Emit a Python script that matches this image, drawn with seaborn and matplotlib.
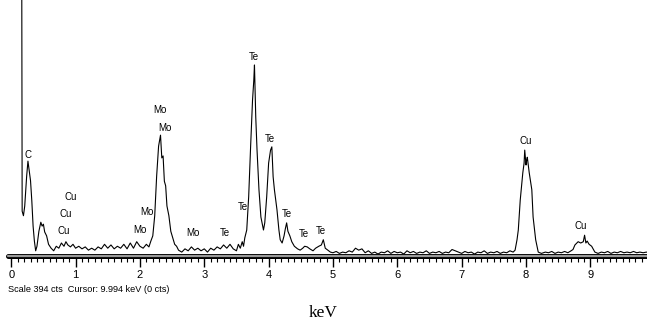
import numpy as np
import pandas as pd
import matplotlib
matplotlib.use("Agg")
import matplotlib.pyplot as plt
import seaborn as sns

# spectrum: energy (keV) and counts (cts)
energy = [0.16, 0.17, 0.19, 0.21, 0.24, 0.26, 0.28, 0.30, 0.32, 0.34, 0.36, 0.38, 0.40, 0.43,
          0.46, 0.48, 0.50, 0.52, 0.55, 0.58, 0.62, 0.66, 0.70, 0.74, 0.78, 0.82, 0.85, 0.88,
          0.92, 0.96, 1.00, 1.05, 1.10, 1.15, 1.20, 1.25, 1.30, 1.35, 1.40, 1.45, 1.50, 1.55,
          1.60, 1.65, 1.70, 1.75, 1.80, 1.85, 1.90, 1.95, 2.00, 2.05, 2.10, 2.14, 2.17, 2.20,
          2.23, 2.26, 2.29, 2.32, 2.34, 2.36, 2.38, 2.40, 2.42, 2.45, 2.48, 2.51, 2.54, 2.57,
          2.60, 2.65, 2.70, 2.75, 2.80, 2.85, 2.90, 2.95, 3.00, 3.05, 3.10, 3.15, 3.20, 3.25,
          3.30, 3.35, 3.40, 3.45, 3.50, 3.53, 3.56, 3.59, 3.61, 3.63, 3.66, 3.69, 3.72, 3.75,
          3.77, 3.78, 3.80, 3.82, 3.85, 3.88, 3.92, 3.94, 3.97, 4.00, 4.03, 4.05, 4.07, 4.09,
          4.13, 4.16, 4.18, 4.21, 4.24, 4.26, 4.28, 4.30, 4.33, 4.36, 4.40, 4.45, 4.49, 4.53,
          4.56, 4.60, 4.64, 4.69, 4.73, 4.78, 4.82, 4.85, 4.88, 4.92, 4.96, 5.00, 5.05, 5.10,
          5.15, 5.20, 5.25, 5.30, 5.35, 5.40, 5.45, 5.50, 5.55, 5.60, 5.65, 5.70, 5.75, 5.80,
          5.85, 5.90, 5.95, 6.00, 6.05, 6.10, 6.15, 6.20, 6.25, 6.30, 6.35, 6.40, 6.45, 6.50,
          6.55, 6.60, 6.65, 6.70, 6.75, 6.80, 6.85, 6.90, 6.95, 7.00, 7.05, 7.10, 7.15, 7.20,
          7.25, 7.30, 7.35, 7.40, 7.45, 7.50, 7.55, 7.60, 7.65, 7.70, 7.75, 7.80, 7.83, 7.86,
          7.88, 7.91, 7.95, 7.97, 7.98, 8.00, 8.01, 8.02, 8.05, 8.09, 8.11, 8.15, 8.19, 8.24,
          8.30, 8.35, 8.40, 8.45, 8.50, 8.55, 8.60, 8.65, 8.70, 8.73, 8.76, 8.81, 8.85, 8.89,
          8.91, 8.93, 8.95, 8.98, 9.02, 9.07, 9.12, 9.17, 9.22, 9.27, 9.32, 9.37, 9.42, 9.47,
          9.52, 9.57, 9.62, 9.67, 9.72, 9.77, 9.82, 9.87, 9.92]
counts = [650, 69, 62, 77, 123, 146, 131, 116, 85, 46, 23, 8, 15, 38,
          52, 46, 49, 37, 31, 18, 12, 8, 15, 12, 20, 15, 22, 17,
          14, 18, 12, 15, 11, 14, 9, 12, 9, 14, 11, 18, 12, 17,
          11, 15, 12, 18, 11, 20, 12, 22, 15, 12, 18, 14, 23, 31,
          62, 123, 169, 186, 151, 154, 115, 108, 77, 62, 38, 28, 18, 15,
          9, 6, 11, 8, 14, 9, 12, 8, 11, 6, 12, 9, 14, 11,
          17, 12, 18, 11, 8, 18, 12, 22, 15, 28, 40, 91, 168, 240,
          271, 294, 214, 163, 102, 60, 40, 51, 91, 143, 163, 168, 122, 102,
          71, 40, 25, 20, 31, 42, 51, 38, 31, 22, 15, 11, 9, 12,
          15, 14, 11, 8, 12, 15, 17, 25, 12, 9, 6, 5, 7, 4,
          6, 5, 8, 6, 12, 9, 11, 5, 8, 4, 6, 3, 6, 5,
          8, 4, 7, 5, 6, 3, 8, 5, 7, 4, 6, 5, 8, 4,
          6, 5, 7, 4, 6, 5, 10, 8, 6, 4, 7, 5, 6, 3,
          6, 5, 8, 4, 6, 5, 7, 4, 6, 5, 8, 6, 9, 25,
          40, 86, 128, 143, 163, 140, 148, 152, 128, 102, 60, 25, 6, 4,
          6, 5, 7, 4, 6, 5, 7, 5, 8, 10, 17, 22, 20, 22,
          32, 20, 23, 18, 15, 6, 4, 6, 5, 7, 4, 6, 5, 7,
          5, 6, 5, 7, 5, 6, 5, 6, 5]

# peak labels
peak_names = ["C", "Cu", "Cu", "Cu", "Mo", "Mo", "Mo", "Mo", "Mo",
              "Te", "Te", "Te", "Te", "Te", "Te", "Te", "Cu", "Cu"]
peak_kev = [0.26, 0.93, 0.84, 0.81, 2.31, 2.39, 2.11, 2.00, 2.83,
            3.77, 4.02, 3.60, 3.32, 4.29, 4.55, 4.81, 8.00, 8.85]
peak_cts = [156, 91, 65, 38, 225, 197, 68, 40, 35,
            306, 180, 75, 35, 65, 34, 38, 177, 46]

df = pd.DataFrame({"keV": energy, "cts": counts})

sns.set_style("white")
plt.rcParams["font.family"] = ["Liberation Sans", "DejaVu Sans"]
plt.rcParams["text.color"] = "black"
plt.rcParams["xtick.color"] = "black"

fig = plt.figure(figsize=(6.47, 3.26), dpi=100)
ax = fig.add_axes([8 / 647, 70 / 326, 639 / 647, 256 / 326])

sns.lineplot(data=df, x="keV", y="cts", ax=ax, color="black", lw=0.8,
             estimator=None, sort=False)

ax.set_xlim(-0.05, 9.88)
ax.set_ylim(0, 394)
for s in ax.spines.values():
    s.set_visible(False)

# thick grey axis bar
ax.axhline(0, color="black", lw=3.6, clip_on=False, zorder=3)
ax.axhline(0, color="#9a9a9a", lw=1.6, clip_on=False, zorder=4)

ax.set_xticks(range(10))
ax.set_xticks(np.arange(0, 9.9, 0.1), minor=True)
ax.tick_params(axis="x", which="major", length=8, width=1.0, color="black",
               labelsize=8, pad=2)
ax.tick_params(axis="x", which="minor", length=4.5, width=0.8, color="black")
ax.tick_params(bottom=True, which="both")
ax.set_yticks([])
ax.set_xlabel("")
ax.set_ylabel("")

for name, x, y in zip(peak_names, peak_kev, peak_cts):
    ax.text(x, y, name, fontsize=7, ha="center", va="center")

fig.text(8 / 647, 1 - 290 / 326, "Scale 394 cts  Cursor: 9.994 keV (0 cts)",
         fontsize=6.6, ha="left", va="center")
fig.text(323 / 647, 1 - 313 / 326, "keV", fontsize=12.5, ha="center",
         va="center", family=["Liberation Serif", "DejaVu Serif"])

fig.savefig("out.png", dpi=100)
